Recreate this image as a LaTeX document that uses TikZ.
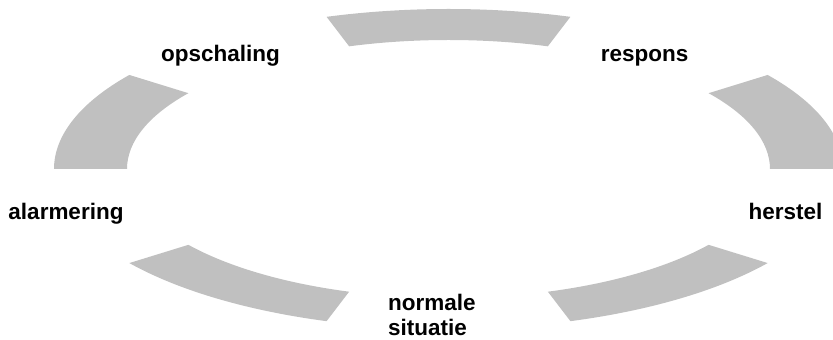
\documentclass[tikz,border=0pt]{standalone}
\usepackage{fontspec}
\setmainfont{Liberation Sans}
\usepackage{tikz}

\definecolor{ringgray}{RGB}{192,192,192}

\begin{document}
\begin{tikzpicture}[
    x=0.3mm, y=0.3mm,
    ringpart/.style={fill=ringgray, draw=none},
    phase/.style={font=\fontsize{19.2}{21.3}\selectfont\bfseries, inner sep=0pt, anchor=base}
]
    \useasboundingbox (-448.5,-171) rectangle (384.5,169);
    % ring: outer 394.5 x 160, inner 321.5 x 129
    \fill[ringpart] (144:394.5 and 160) arc[start angle=144, end angle=180, x radius=394.5, y radius=160]
        -- (180:321.5 and 129) arc[start angle=180, end angle=144, x radius=321.5, y radius=129] -- cycle;
    \fill[ringpart] (72:394.5 and 160) arc[start angle=72, end angle=108, x radius=394.5, y radius=160]
        -- (108:321.5 and 129) arc[start angle=108, end angle=72, x radius=321.5, y radius=129] -- cycle;
    \fill[ringpart] (0:394.5 and 160) arc[start angle=0, end angle=36, x radius=394.5, y radius=160]
        -- (36:321.5 and 129) arc[start angle=36, end angle=0, x radius=321.5, y radius=129] -- cycle;
    \fill[ringpart] (-72:394.5 and 160) arc[start angle=-72, end angle=-36, x radius=394.5, y radius=160]
        -- (-36:321.5 and 129) arc[start angle=-36, end angle=-72, x radius=321.5, y radius=129] -- cycle;
    \fill[ringpart] (-144:394.5 and 160) arc[start angle=-144, end angle=-108, x radius=394.5, y radius=160]
        -- (-108:321.5 and 129) arc[start angle=-108, end angle=-144, x radius=321.5, y radius=129] -- cycle;

    \node[phase] (opschaling) at (-228,107.3) {opschaling};
    \node[phase] (respons) at (196.2,107.3) {respons};
    \node[phase] (alarmering) at (-382.5,-50.3) {alarmering};
    \node[phase] (herstel) at (337,-51) {herstel};
    % base of a two-line node is the baseline of its last line
    \node[phase, anchor=base west, align=left] (normaal) at (-60.5,-166) {normale\\situatie};
\end{tikzpicture}
\end{document}
